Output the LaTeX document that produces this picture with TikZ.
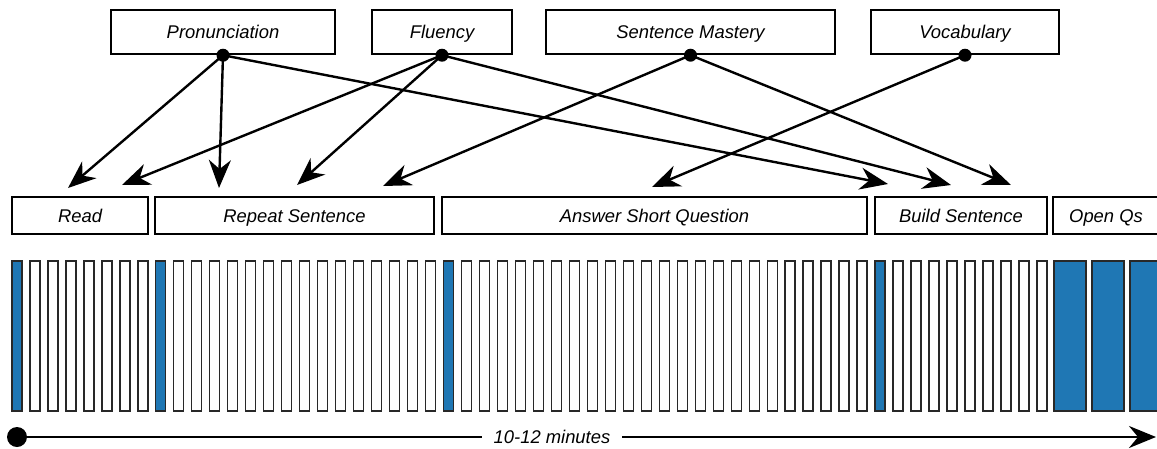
\documentclass[tikz,border=0pt]{standalone}
\usepackage{fontspec}
\setmainfont{Liberation Sans}
\usetikzlibrary{arrows.meta}
\definecolor{barblue}{RGB}{31,119,180}
\definecolor{barline}{RGB}{40,40,40}
\begin{document}
\begin{tikzpicture}[x=1pt,y=-1pt,
  every node/.style={font=\fontsize{18.4}{22}\selectfont\itshape, text height=13.2pt, text depth=0pt},
  box/.style={draw, line width=2.4pt, inner sep=0pt, fill=white},
  topbox/.style={box, minimum height=44pt},
  taskbox/.style={box, minimum height=37pt},
  conn/.style={line width=2.4pt, -{Stealth[length=28pt,width=22pt,inset=9pt]}},
  srcdot/.style={circle, fill=black, inner sep=0pt, minimum size=13pt, text height=, text depth=},
  narrowbar/.style={draw=barline, line width=1.3pt},
  timeline/.style={line width=2.8pt, -{Stealth[length=27pt,width=22pt,inset=9pt]}}
]
\clip (0,0) rectangle (1157,448);

% skill boxes
\node[topbox, minimum width=224pt] (pron)  at (223,32)   {Pronunciation};
\node[topbox, minimum width=140pt] (flu)   at (442,32)   {Fluency};
\node[topbox, minimum width=289pt] (sm)    at (690.5,32) {Sentence Mastery};
\node[topbox, minimum width=188pt] (voc)   at (965,32)   {Vocabulary};

% task boxes
\node[taskbox, minimum width=136pt] (read)   at (80,215.5)    {Read};
\node[taskbox, minimum width=279pt] (repeat) at (294.5,215.5) {Repeat Sentence};
\node[taskbox, minimum width=425pt] (answer) at (654.5,215.5) {Answer Short Question};
\node[taskbox, minimum width=172pt] (build)  at (961,215.5)   {Build Sentence};
\node[taskbox, minimum width=106pt] (open)   at (1106,215.5)  {Open Qs};

% arrow targets
\coordinate (readA)   at (68,188);
\coordinate (readB)   at (122,185);
\coordinate (repA)    at (219,188);
\coordinate (repB)    at (297,185);
\coordinate (repC)    at (383,186);
\coordinate (ansA)    at (652,187);
\coordinate (buildA)  at (888,184);
\coordinate (buildB)  at (951,185);
\coordinate (buildC)  at (1011,185);

% connectors
\draw[conn] (pron.south) -- (readA);
\draw[conn] (pron.south) -- (repA);
\draw[conn] (pron.south) -- (buildA);
\draw[conn] (flu.south) -- (readB);
\draw[conn] (flu.south) -- (repB);
\draw[conn] (flu.south) -- (buildB);
\draw[conn] (sm.south) -- (repC);
\draw[conn] (sm.south) -- (buildC);
\draw[conn] (voc.south) -- (ansA);

% source dots
\node[srcdot] (pronD) at (pron.south) {};
\node[srcdot] (fluD)  at (flu.south)  {};
\node[srcdot] (smD)   at (sm.south)   {};
\node[srcdot] (vocD)  at (voc.south)  {};

% question bars
\foreach \k in {0,...,57}{
  \pgfmathsetmacro{\bx}{12+17.98*\k}
  \def\bc{white}
  \ifnum\k=0 \def\bc{barblue}\fi
  \ifnum\k=8 \def\bc{barblue}\fi
  \ifnum\k=24 \def\bc{barblue}\fi
  \ifnum\k=48 \def\bc{barblue}\fi
  \filldraw[narrowbar, fill=\bc] (\bx,261) rectangle ++(10,150);
}
\foreach \k in {0,1,2}{
  \filldraw[narrowbar, fill=barblue] ({1054+38*\k},261) rectangle ++(32,150);
}

% time line
\node[srcdot, minimum size=20pt] (tstart) at (17,437) {};
\coordinate (tend) at (1156,437);
\draw[timeline] (tstart.center) -- (tend);
\node[fill=white, inner xsep=12pt, inner ysep=2pt] (tlabel) at (552,437) {10-12 minutes};
\end{tikzpicture}
\end{document}
